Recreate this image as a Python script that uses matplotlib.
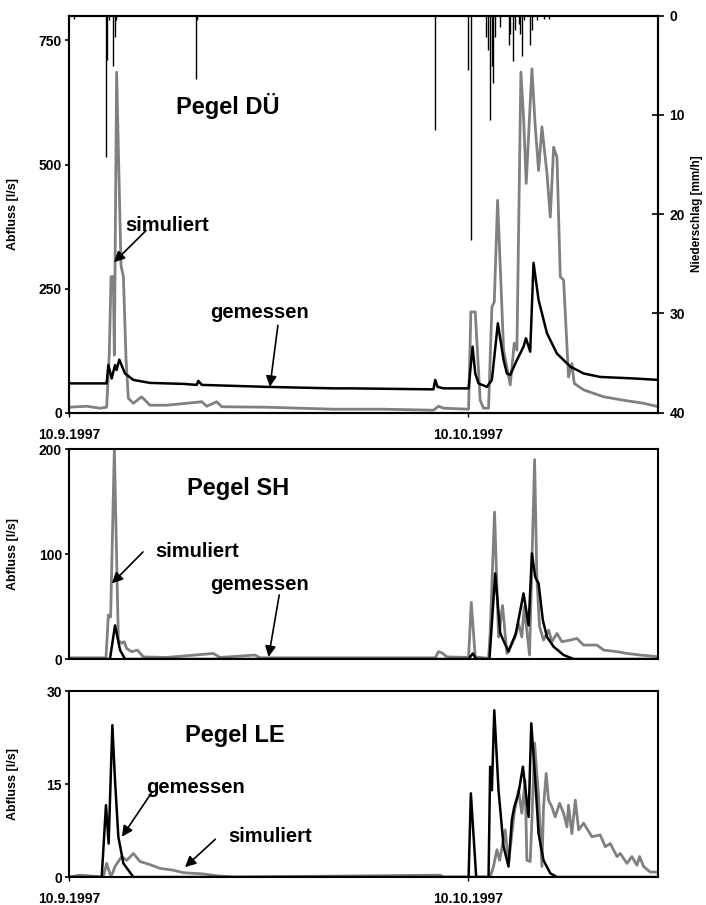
import matplotlib
matplotlib.use("Agg")
import matplotlib.pyplot as plt

plt.rcParams['font.family'] = ['Liberation Sans', 'DejaVu Sans']
plt.rcParams['font.weight'] = 'bold'

GRAY = '#808080'

# time axis: days after 10.9.1997
tick_days = [0, 30]
tick_labels = ['10.9.1997', '10.10.1997']
x_end = 44.3

# --- Pegel DÜ (l/s) ---
du_mess_t = [0, 2.83, 2.96, 3.21, 3.46, 3.58, 3.78, 4.21, 4.84, 6.09, 8.6, 9.6, 9.72, 9.98,
             14.86, 19.87, 21.13, 27.39, 27.52, 27.7, 28.15, 30.03, 30.33, 30.53, 30.78,
             31.4, 31.78, 32.23, 32.66, 32.91, 33.16, 33.66, 34.16, 34.34, 34.66, 34.91,
             35.29, 35.92, 36.67, 37.67, 38.67, 39.92, 42.43, 44.3]
du_mess_q = [59, 59, 96, 69, 96, 86, 107, 79, 66, 60, 58, 56, 64, 56,
             52, 49, 49, 47, 66, 52, 49, 49, 133, 79, 59,
             52, 66, 180, 106, 79, 76, 106, 133, 150, 123, 302,
             227, 160, 119, 93, 79, 72, 69, 66]
du_sim_t = [0, 1.33, 2.33, 2.83, 3.03, 3.16, 3.33, 3.41, 3.58, 3.91, 4.09, 4.29, 4.46, 4.84,
            5.46, 6.09, 7.34, 9.98, 10.35, 11.1, 11.48, 14.86, 19.87, 23.63, 27.39, 27.77,
            28.15, 30.03, 30.2, 30.53, 30.9, 31.15, 31.53, 31.78, 31.96, 32.21, 32.66, 33.16,
            33.46, 33.66, 33.96, 34.16, 34.36, 34.79, 35.04, 35.29, 35.54, 35.92, 36.17,
            36.42, 36.67, 36.92, 37.17, 37.54, 37.79, 37.97, 38.67, 40.18, 41.68, 43.18, 44.3]
du_sim_q = [11, 13, 9, 11, 119, 274, 274, 116, 686, 297, 274, 106, 29, 19,
            32, 15, 15, 22, 13, 22, 12, 11, 7, 7, 5, 13,
            9, 7, 203, 203, 25, 9, 9, 213, 223, 428, 126, 56,
            140, 126, 686, 596, 462, 693, 576, 488, 576, 482, 394,
            535, 515, 274, 267, 72, 99, 59, 46, 32, 25, 19, 12]

# Niederschlag (mm/h)
rain_t = [0.38, 2.78, 2.88, 2.98, 3.28, 3.46, 3.51, 9.55, 9.65, 27.47, 29.95, 30.2,
          31.35, 31.48, 31.65, 31.78, 31.9, 32.03, 32.36, 33.03, 33.16, 33.36, 33.53,
          33.79, 33.91, 34.06, 34.16, 34.61, 34.79, 35.16, 35.66, 36.04]
rain_mm = [0.3, 14.2, 4.5, 0.4, 5.1, 2.1, 0.4, 6.4, 0.4, 11.5, 5.5, 22.6,
           2.1, 3.5, 10.5, 5.1, 6.8, 2.1, 1.1, 3.0, 1.8, 4.6, 1.4,
           0.8, 1.8, 4.1, 0.4, 3.0, 1.4, 0.4, 0.3, 0.3]

# --- Pegel SH (l/s) ---
sh_sim_t = [0, 2.78, 2.96, 3.13, 3.41, 3.71, 3.96, 4.14, 4.34, 4.71, 5.14, 5.59, 7.34,
            10.85, 11.35, 13.98, 14.36, 21.88, 27.52, 27.77, 28.02, 28.4, 30.03, 30.23,
            30.53, 31.53, 31.65, 31.98, 32.28, 32.58, 32.91, 33.16, 33.53, 33.78, 34.03,
            34.21, 34.61, 34.99, 35.16, 35.36, 35.66, 36.04, 36.29, 36.67, 37.04, 37.67,
            38.17, 38.67, 39.67, 40.18, 41.18, 41.93, 42.93, 44.3]
sh_sim_q = [1.2, 1.2, 42, 40, 200, 18, 15, 16.5, 10, 7, 8.5, 2, 1.5,
            5.3, 1.5, 3.8, 1.2, 1.2, 1.2, 7, 6, 2, 1.5, 54,
            2, 0.6, 24, 140, 21, 51, 5.3, 11.7, 21, 34, 21,
            50, 3.8, 190, 78, 31, 18, 27.6, 16.5, 24.4, 16.5, 18,
            19.6, 13.3, 13.3, 8.5, 7, 5.3, 3.8, 2.2]
sh_mess_t = [0, 3.08, 3.46, 3.84, 4.21, 30.03, 30.35, 30.6, 31.6, 32.03, 32.41, 33.03,
             33.28, 33.58, 34.16, 34.54, 34.79, 35.04, 35.29, 35.61, 35.92, 36.42, 37.17,
             37.92, 44.3]
sh_mess_q = [0, 0, 32, 8.5, 0, 0, 5.3, 0, 0, 81.5, 24.4, 7,
             15, 24.4, 62.5, 32, 100.6, 78, 72, 37, 21, 11.7, 3.8,
             0, 0]

# --- Pegel LE (l/s) ---
le_mess_t = [0, 2.46, 2.78, 2.98, 3.26, 3.46, 3.71, 4.09, 4.84, 30.03, 30.2, 30.6, 31.53,
             31.65, 31.78, 31.96, 32.28, 32.66, 33.03, 33.28, 33.46, 33.78, 34.11, 34.54,
             34.74, 35.04, 35.29, 35.66, 36.17, 36.67, 44.3]
le_mess_q = [0, 0, 11.6, 5.4, 24.5, 15.6, 6.5, 2.2, 0, 0, 13.5, 0, 0,
             17.8, 14, 26.9, 14, 4.9, 1.7, 9.2, 11.3, 13.5, 17.8, 9.7,
             24.8, 15.6, 7, 2.7, 0.6, 0, 0]
le_sim_t = [0, 0.83, 2.58, 2.83, 3.16, 3.46, 3.96, 4.34, 4.84, 5.34, 6.09, 6.84, 7.84,
            8.6, 10.1, 11.1, 12.35, 27.9, 28.15, 31.65, 31.9, 32.16, 32.36, 32.78, 33.03,
            33.46, 33.78, 34.03, 34.28, 34.41, 34.66, 34.79, 34.99, 35.29, 35.54, 35.66,
            35.86, 36.04, 36.29, 36.54, 36.87, 37.17, 37.42, 37.54, 37.79, 38.05, 38.3,
            38.67, 39.3, 39.92, 40.3, 40.68, 41.18, 41.43, 41.93, 42.3, 42.68, 42.88,
            43.18, 43.68, 44.3]
le_sim_q = [0, 0.3, 0, 2.2, 0, 1.7, 3.3, 2.7, 3.8, 2.5, 2.0, 1.4, 1.1,
            0.7, 0.5, 0.2, 0, 0.3, 0, 0, 1.7, 4.4, 2.7, 7.6, 2.2,
            10.3, 14, 10.3, 15.6, 2.7, 2.5, 9.2, 21.6, 12.9, 1.7, 11.3,
            16.7, 12.4, 11.3, 9.7, 11.9, 10.3, 8.1, 11.6, 7, 12.4, 7.6,
            8.7, 6.5, 6.8, 4.9, 5.4, 3.3, 3.8, 2.2, 3.3, 1.9, 3.3,
            1.7, 0.8, 0.8]

fig = plt.figure(figsize=(7.06, 9.05), dpi=100)
ax1 = fig.add_axes([0.0977, 0.5440, 0.835, 0.4387])
ax2 = fig.add_axes([0.0977, 0.2718, 0.835, 0.2320])
ax3 = fig.add_axes([0.0977, 0.0309, 0.835, 0.2055])


def style_axes(ax, ymax, yticks, show_dates):
    ax.set_xlim(0, x_end)
    ax.set_ylim(0, ymax)
    ax.set_yticks(yticks)
    ax.set_yticklabels([str(v) for v in yticks], fontsize=10, fontweight='bold')
    if show_dates:
        ax.set_xticks(tick_days)
        ax.set_xticklabels(tick_labels, fontsize=10, fontweight='bold')
        ax.tick_params(axis='x', direction='out', length=3, width=1, pad=8)
    else:
        ax.set_xticks([])
    ax.tick_params(axis='y', direction='out', length=3, width=1.2, pad=2)
    for s in ax.spines.values():
        s.set_linewidth(1.5)
    ax.set_ylabel('Abfluss [l/s]', fontsize=9, fontweight='bold')
    ax.yaxis.set_label_coords(-0.085, 0.5)


def arrow(ax, tail, head):
    ax.annotate('', xy=head, xytext=tail,
                arrowprops=dict(arrowstyle='-|>', color='black', lw=1.2,
                                mutation_scale=16, shrinkA=0, shrinkB=0))


# top panel
ax1.plot(du_sim_t, du_sim_q, color=GRAY, lw=2, zorder=2)
ax1.plot(du_mess_t, du_mess_q, color='black', lw=1.8, zorder=3)
style_axes(ax1, 800, [0, 250, 500, 750], True)
axr = ax1.twinx()
axr.vlines(rain_t, 0, rain_mm, color='black', lw=1.0)
axr.set_ylim(40, 0)
axr.set_yticks([0, 10, 20, 30, 40])
axr.set_yticklabels(['0', '10', '20', '30', '40'], fontsize=10, fontweight='bold')
axr.tick_params(axis='y', direction='inout', length=8, width=1.2, pad=4)
axr.set_ylabel('Niederschlag [mm/h]', fontsize=8.5, fontweight='bold')
axr.yaxis.set_label_coords(1.055, 0.5)
for s in axr.spines.values():
    s.set_linewidth(1.5)
ax1.text(0.27, 0.773, 'Pegel DÜ', transform=ax1.transAxes, fontsize=17,
         fontweight='bold', ha='center', va='center')
ax1.text(7.37, 377, 'simuliert', fontsize=14.5, fontweight='bold', ha='center', va='center')
arrow(ax1, (5.79, 367), (3.38, 303))
ax1.text(14.3, 201, 'gemessen', fontsize=14.5, fontweight='bold', ha='center', va='center')
arrow(ax1, (15.7, 176), (15.1, 52))

# middle panel
ax2.plot(sh_sim_t, sh_sim_q, color=GRAY, lw=2, zorder=2)
ax2.plot(sh_mess_t, sh_mess_q, color='black', lw=1.8, zorder=3)
style_axes(ax2, 200, [0, 100, 200], False)
ax2.text(0.287, 0.814, 'Pegel SH', transform=ax2.transAxes, fontsize=17,
         fontweight='bold', ha='center', va='center')
ax2.text(9.6, 102, 'simuliert', fontsize=14.5, fontweight='bold', ha='center', va='center')
arrow(ax2, (5.56, 102), (3.23, 72))
ax2.text(14.3, 71, 'gemessen', fontsize=14.5, fontweight='bold', ha='center', va='center')
arrow(ax2, (15.8, 61), (15.0, 2))

# bottom panel
ax3.plot(le_sim_t, le_sim_q, color=GRAY, lw=2, zorder=2)
ax3.plot(le_mess_t, le_mess_q, color='black', lw=1.8, zorder=3)
style_axes(ax3, 30, [0, 15, 30], True)
ax3.text(0.282, 0.763, 'Pegel LE', transform=ax3.transAxes, fontsize=17,
         fontweight='bold', ha='center', va='center')
ax3.text(9.5, 14.4, 'gemessen', fontsize=14.5, fontweight='bold', ha='center', va='center')
arrow(ax3, (6.24, 13.7), (3.98, 6.5))
ax3.text(15.1, 6.5, 'simuliert', fontsize=14.5, fontweight='bold', ha='center', va='center')
arrow(ax3, (11.0, 6.1), (8.72, 1.6))

fig.savefig('out.png', dpi=100)
